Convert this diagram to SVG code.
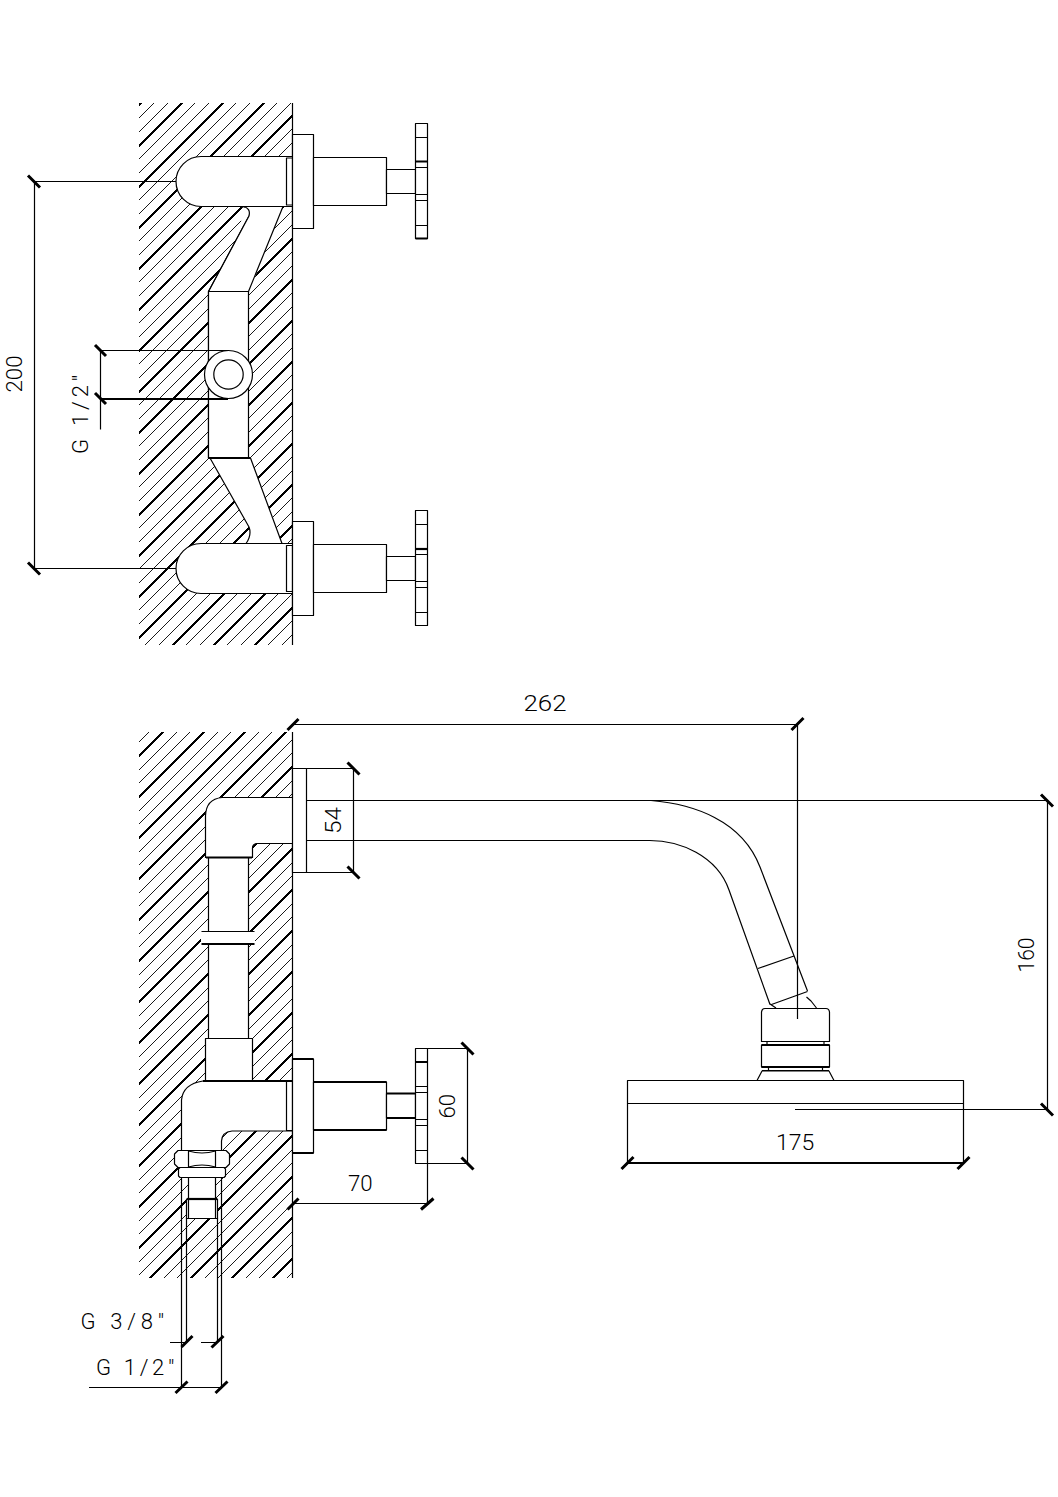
<svg xmlns="http://www.w3.org/2000/svg" width="1058" height="1497" viewBox="0 0 1058 1497">
<style>
.h{fill:none;stroke:#000;stroke-width:.9;shape-rendering:crispEdges}
.hb{fill:none;stroke:#000;stroke-width:1.5;shape-rendering:crispEdges}
.ha{fill:none;stroke:#000;stroke-width:1.9;shape-rendering:crispEdges}
.w{fill:#fff;stroke:#000;stroke-width:1.2;stroke-linejoin:round}
.c{fill:#fff;stroke:none}
.n{fill:none;stroke:#000;stroke-width:1.2;stroke-linejoin:round}
.b{fill:none;stroke:#000;stroke-width:2.2}
.k{fill:none;stroke:#000;stroke-width:3}
text{font-family:"Roboto","Liberation Sans",sans-serif;font-weight:300;font-size:22px;fill:#000}
</style>
<defs>
<pattern id="hatchA" patternUnits="userSpaceOnUse" width="41" height="41">
<path class="ha" d="M41.7-3L-3 41.7M44 35.7L35.7 44"/>
<path class="h" d="M28-3L-3 28M44 22L22 44M14.3-3L-3 14.3M44 8.3L8.3 44"/>
</pattern>
<pattern id="hatchB" patternUnits="userSpaceOnUse" width="41" height="41">
<path class="hb" d="M37-3L-3 37M44 31L31 44"/>
<path class="h" d="M23.3-3L-3 23.3M44 17.3L17.3 44M9.7-3L-3 9.7M44 3.7L3.7 44"/>
</pattern>
</defs>
<rect id="wall-top-hatch" x="139" y="103" width="153.5" height="542" fill="url(#hatchA)"/>
<rect id="wall-bottom-hatch" x="139" y="732" width="153.5" height="546" fill="url(#hatchB)"/>
<path id="wall-top" class="n" d="M292.5 103V645"/>
<path id="wall-bottom" class="n" d="M292.5 732V1278"/>

<g id="top-pipework">
<path class="w" d="M243 206.5Q251 208 249 216L208.500 291.500V458H250.500L282 543.500H246Q252 535 249 527L210 458"/>
<path class="w" d="M208.500 291.500V458.500H248.500V291.500Z"/>
<path class="c" d="M243 204H284L249 292H209L249 216Z"/>
<path class="n" d="M243 206.500Q251 208 249 216L208.500 291.500H248.500L283 206.500"/>
<path class="b" d="M209 458H250"/>
<circle class="w" cx="228.500" cy="374.500" r="24"/>
<circle class="w" cx="228.500" cy="374.500" r="14.700"/>
</g>
<g id="top-valve-upper">
<path class="w" d="M292.500 156.500H201A25 25 0 0 0 201 206.500H292.500"/>
<rect class="w" x="286.500" y="158" width="6" height="47"/>
<rect class="w" x="292.500" y="134.500" width="21" height="94"/>
<rect class="w" x="313.500" y="157.500" width="73" height="48"/>
<rect class="w" x="386.500" y="169.500" width="29" height="24"/>
<rect class="w" x="415.500" y="123.500" width="12" height="115"/>
<path class="n" d="M415.500 137.500H427.500M415.500 167.500H427.500M415.500 194.500H427.500M415.500 200.500H427.500M415.500 225.500H427.500"/>
<path class="b" d="M415.500 161.500H427.500M415.500 238.500H427.500"/>
</g>
<g id="top-valve-lower">
<path class="w" d="M292.500 543.500H201A25 25 0 0 0 201 593.500H292.500"/>
<rect class="w" x="286.500" y="545.500" width="6" height="46"/>
<rect class="w" x="292.500" y="521.500" width="21" height="94"/>
<rect class="w" x="313.500" y="544.500" width="73" height="48"/>
<rect class="w" x="386.500" y="556.500" width="29" height="24"/>
<rect class="w" x="415.500" y="510.500" width="12" height="115"/>
<path class="n" d="M415.500 524.500H427.500M415.500 554.500H427.500M415.500 581.500H427.500M415.500 587.500H427.500M415.500 612.500H427.500"/>
<path class="b" d="M415.500 549H427.500"/>
</g>

<g id="bottom-pipework">
<path class="w" d="M208.500 857V1038.500H248.500V857Z"/>
<path class="c" d="M201 932H255V944H201Z"/>
<path class="n" d="M201.500 931.500H254.500"/>
<path class="b" d="M201.500 944H254.500"/>
<path class="w" d="M292.500 797.500H222Q206 799 205.500 816V857.500H252.500V849Q252 844 257 843.500H292.500"/>
<path class="b" d="M206 857.500H252"/>
<rect class="w" x="205.500" y="1038.500" width="47" height="42.500"/>
<path class="w" d="M292.500 1081H203Q183 1084 181.500 1100V1150.500H221.500V1141Q222 1132 232 1131H292.500"/>
<path class="b" d="M203 1081H292"/>
</g>
<g id="nut">
<path class="w" d="M178 1150.500H226L229.500 1154V1164L226 1167.500H178L174.500 1164V1154Z"/>
<path class="n" d="M188.500 1151V1167M215.500 1151V1167M188.500 1151Q202 1155 215.500 1151M188.500 1167Q202 1163 215.500 1167"/>
<path class="w" d="M180 1167.500H224L225.500 1169V1176L224 1177.500H180L178.500 1176V1169Z"/>
<rect class="w" x="188.500" y="1177.500" width="27" height="22"/>
<rect class="w" x="186.500" y="1199" width="31" height="19.500"/>
<path class="n" d="M188.500 1199V1218M215.500 1199V1218"/>
<path class="b" d="M187 1199H217"/>
</g>
<g id="bottom-valve">
<rect class="w" x="286.500" y="1081.500" width="6" height="49"/>
<rect class="w" x="292.500" y="1059" width="21" height="94"/>
<rect class="w" x="313.500" y="1082" width="73" height="48"/>
<rect class="w" x="386.500" y="1093.500" width="29" height="24.500"/>
<rect class="w" x="415.500" y="1048.500" width="12" height="115"/>
<path class="n" d="M415.500 1086.500H427.500M415.500 1092.500H427.500M415.500 1119.500H427.500M415.500 1125.500H427.500M415.500 1150.500H427.500"/>
<path class="b" d="M415.500 1062H427.500M292.500 1059H313.500M292.500 1153H313.500M313.500 1082H386.500M313.500 1130H386.500M386.500 1093.500H415.500M386.500 1118H415.500"/>
</g>

<g id="shower-arm">
<rect class="w" x="292.500" y="768.500" width="14" height="104"/>
<path class="n" d="M306.500 840.500H648C680 840 717 856 729 890L770 1004.500M651 800.500C693 804 742 820 760 867L807.500 991"/>
<path class="n" d="M758 968.500L794 956M771.500 1004.500L807.500 991.500M770 1004L776 1008M806.500 997L811 1001L816.500 1008"/>
</g>
<g id="shower-head">
<path class="w" d="M761.500 1012Q762 1008.500 765 1008.500H826Q829 1008.500 829.500 1012V1041.500H761.500Z"/>
<path class="n" d="M767 1041.500V1045M824 1041.500V1045M768.500 1067V1071M822.500 1067V1071"/>
<rect class="w" x="761.500" y="1045" width="68" height="22"/>
<path class="b" d="M761.500 1045H829.500M761.500 1067H829.500M762 1071H829"/>
<path class="w" d="M757 1080.500L762 1071H829L834 1080.500"/>
<rect class="w" x="627.500" y="1080.500" width="336" height="82"/>
<path class="n" d="M627.500 1103.500H963.500"/>
</g>

<g id="connectors">
<path class="n" d="M34.500 181.500H176M34.500 568.500H176M34.500 181.500V568.500"/>
<path class="n" d="M100.500 350.500H228M100.500 350.500V429.500"/>
<path class="b" d="M100.500 399H228"/>
<path class="k" d="M28 175.500L40 187.500M28 562.500L40 574.500M95 345L106 356M95 393L106 404"/>
<path class="n" d="M292.500 724.500H797.500V1019"/>
<path class="k" d="M287.500 730L298.500 719M791.500 730L803.500 718"/>
<path class="n" d="M306.500 768.500H353.500V872.500H306.500"/>
<path class="k" d="M347.500 762.500L359.500 774.500M347.500 866.500L359.500 878.500"/>
<path class="n" d="M306.500 800.500H1047.500V1109.500H795"/>
<path class="k" d="M1041 794.500L1053 806.500M1041 1103.500L1053 1115.500"/>
<path class="b" d="M627.500 1163H963.500"/>
<path class="k" d="M621.500 1169L633.500 1157M957.500 1169L969.500 1157"/>
<path class="n" d="M427.500 1048.500H467.500V1163.500H427.500M427.500 1163.500V1203.500H292.500"/>
<path class="k" d="M461.500 1042.500L473.500 1054.500M461.500 1157.500L473.500 1169.500M287.500 1209.500L298.500 1198.500M421 1209.500L433.500 1198.500"/>
<path class="n" d="M181.500 1177V1387.500M221.500 1177V1387.500M186.500 1218V1342.500M217.500 1218V1342.500M170 1342.500H186.500M201 1342.500H217.500M89 1387.500H221.500"/>
<path class="k" d="M181.500 1347L192.500 1336M211.500 1347.500L223.500 1336M175.500 1393L187.500 1381.500M215.500 1393L227.500 1381.500"/>
</g>

<g id="labels">
<text x="0" y="0" textLength="37" lengthAdjust="spacingAndGlyphs" transform="translate(21.500 392.500) rotate(-90)">200</text>
<text x="0" y="0" textLength="79" lengthAdjust="spacing" transform="translate(88 454) rotate(-90)">G 1/2"</text>
<text x="523.500" y="711" textLength="43" lengthAdjust="spacingAndGlyphs">262</text>
<text x="0" y="0" textLength="27" lengthAdjust="spacingAndGlyphs" transform="translate(340.500 834) rotate(-90)">54</text>
<text x="0" y="0" textLength="35" lengthAdjust="spacingAndGlyphs" transform="translate(1034 972.500) rotate(-90)">160</text>
<text x="0" y="0" textLength="24.500" lengthAdjust="spacingAndGlyphs" transform="translate(455 1118.500) rotate(-90)">60</text>
<text x="348" y="1190.500" textLength="24.700" lengthAdjust="spacingAndGlyphs">70</text>
<text x="776" y="1150" textLength="38.300" lengthAdjust="spacingAndGlyphs">175</text>
<text x="80.500" y="1329" textLength="83.500" lengthAdjust="spacing">G 3/8"</text>
<text x="96" y="1374.500" textLength="78.300" lengthAdjust="spacing">G 1/2"</text>
</g>
</svg>
